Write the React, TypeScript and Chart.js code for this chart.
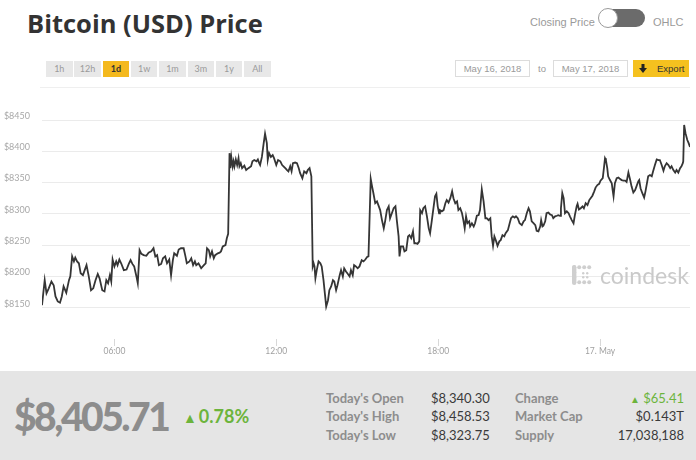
import React, { useEffect, useRef } from "react";
import { Chart, registerables } from "chart.js";
Chart.register(...registerables);

// minutes since 16 May 2018 00:00
const TIMES = [
  199, 205, 209, 214, 220, 225, 229, 234, 239, 243, 247, 253, 259, 262, 266, 270, 273, 277, 281, 285,
  290, 294, 298, 303, 308, 313, 318, 323, 327, 333, 338, 342, 346, 350, 353, 356, 360, 364, 367, 371,
  375, 381, 387, 392, 396, 400, 404, 409, 412, 416, 420, 425, 431, 436, 442, 447, 451, 455, 459, 464,
  468, 473, 477, 482, 486, 490, 493, 499, 503, 508, 514, 518, 521, 527, 531, 535, 539, 542, 547, 553,
  559, 563, 566, 570, 573,
  577, 581, 584, 590, 594, 597, 601, 607, 610, 613, 616, 618, 620, 623, 625, 627, 630, 633, 636, 638,
  641, 644, 649, 653, 658, 664, 667, 671, 676, 679, 682, 684, 688, 692, 695, 699, 701, 704, 708, 712,
  715, 720, 724, 729, 733, 736, 740, 744, 747, 751, 754, 757, 762, 766, 770, 773, 778, 782, 787, 790,
  794, 798, 801, 803, 805, 807, 810, 814, 818, 821, 825, 828, 831, 835, 838, 842, 846, 849, 853, 856,
  861, 864, 868, 871, 875, 878, 883, 886, 890, 893, 897, 901, 905,
  910, 914, 918, 922, 925, 930, 933, 936, 940, 944, 947, 951, 955, 959, 962, 966, 970, 973, 977, 981,
  985, 988, 992, 994, 997, 1002, 1005, 1009, 1013, 1016, 1020, 1024, 1027, 1030, 1034, 1038, 1040, 1044, 1047, 1051,
  1055, 1059, 1062, 1066, 1070, 1073, 1076, 1079, 1082, 1084, 1088, 1092, 1096, 1099, 1103, 1107, 1111, 1114, 1118, 1122,
  1125, 1129, 1133, 1136, 1139, 1142, 1145, 1149, 1151, 1155, 1159, 1162, 1166, 1170, 1173, 1177, 1181, 1185, 1188, 1192,
  1196, 1199, 1202, 1205, 1209, 1212, 1216, 1219, 1223, 1227, 1230, 1235, 1239, 1242, 1246, 1250, 1253, 1257, 1261,
  1266, 1270, 1273, 1277, 1281, 1284, 1288, 1292, 1296, 1299, 1303, 1307, 1309, 1312, 1314, 1318, 1321, 1325, 1329, 1333,
  1336, 1340, 1344, 1347, 1351, 1353, 1356, 1359, 1362, 1366, 1370, 1373, 1377, 1381, 1384, 1388, 1390, 1393, 1397, 1401,
  1404, 1408, 1412, 1416, 1419, 1423, 1427, 1430, 1434, 1438, 1441, 1446, 1449, 1451, 1453, 1456, 1458, 1462, 1466, 1468,
  1470, 1473, 1477, 1481, 1484, 1488, 1492, 1496, 1499, 1503, 1507, 1510, 1514, 1518, 1521, 1525, 1527, 1530, 1534, 1538,
  1541, 1545, 1547, 1551, 1555, 1558, 1562, 1566, 1570, 1573, 1577, 1581, 1584, 1588, 1592, 1596, 1599, 1603, 1607, 1610,
  1614, 1618, 1621, 1624, 1625, 1627, 1630, 1634, 1637, 1640,
];

const PRICES = [
  8154, 8194, 8173, 8181, 8192, 8186, 8168, 8160, 8158, 8168, 8184, 8174, 8194, 8200, 8232, 8224, 8230, 8224, 8221, 8205,
  8202, 8210, 8218, 8200, 8178, 8181, 8194, 8204, 8197, 8178, 8176, 8194, 8189, 8202, 8192, 8227, 8216, 8224, 8218, 8227,
  8221, 8210, 8211, 8220, 8226, 8220, 8216, 8200, 8189, 8242, 8236, 8234, 8233, 8238, 8240, 8245, 8232, 8234, 8218, 8220,
  8229, 8232, 8221, 8227, 8202, 8226, 8237, 8233, 8243, 8245, 8245, 8232, 8221, 8224, 8229, 8218, 8224, 8218, 8221, 8213,
  8218, 8221, 8245, 8242, 8232,
  8240, 8229, 8234, 8237, 8238, 8240, 8248, 8250, 8261, 8268, 8397, 8373, 8391, 8376, 8384, 8376, 8387, 8378, 8389, 8376,
  8381, 8373, 8377, 8370, 8373, 8376, 8384, 8386, 8384, 8387, 8381, 8378, 8391, 8413, 8428, 8413, 8386, 8397, 8391, 8394,
  8389, 8378, 8386, 8384, 8378, 8376, 8373, 8370, 8368, 8376, 8368, 8381, 8382, 8381, 8373, 8365, 8357, 8368, 8365, 8370,
  8373, 8360, 8216, 8221, 8216, 8197, 8210, 8224, 8221, 8216, 8194, 8173, 8152, 8162, 8178, 8184, 8194, 8192, 8178, 8186,
  8202, 8210, 8200, 8213, 8208, 8205, 8200, 8210, 8202, 8218, 8216, 8213, 8216,
  8226, 8224, 8227, 8231, 8232, 8356, 8344, 8333, 8317, 8320, 8314, 8306, 8290, 8277, 8288, 8306, 8312, 8293, 8301, 8309,
  8312, 8290, 8264, 8232, 8248, 8248, 8240, 8242, 8264, 8266, 8261, 8272, 8253, 8253, 8252, 8256, 8306, 8301, 8309, 8312,
  8296, 8277, 8269, 8290, 8312, 8328, 8332, 8312, 8301, 8306, 8304, 8306, 8317, 8322, 8318, 8325, 8336, 8325, 8317, 8320,
  8306, 8309, 8301, 8290, 8277, 8296, 8285, 8288, 8280, 8285, 8280, 8285, 8297, 8298, 8306, 8339, 8320, 8293, 8293, 8290,
  8293, 8264, 8249, 8264, 8256, 8249, 8256, 8258, 8266, 8264, 8269, 8274, 8285, 8293, 8296, 8294, 8296, 8293, 8285,
  8282, 8288, 8290, 8301, 8309, 8304, 8288, 8285, 8282, 8273, 8272, 8280, 8290, 8280, 8281, 8288, 8301, 8302, 8299, 8298,
  8293, 8296, 8297, 8298, 8297, 8309, 8333, 8325, 8301, 8304, 8301, 8296, 8290, 8285, 8298, 8312, 8316, 8307, 8309, 8312,
  8309, 8317, 8314, 8322, 8325, 8329, 8336, 8342, 8346, 8348, 8353, 8357, 8376, 8389, 8386, 8373, 8360, 8354, 8349, 8338,
  8328, 8349, 8357, 8358, 8356, 8354, 8353, 8353, 8351, 8366, 8354, 8344, 8334, 8338, 8344, 8352, 8354, 8341, 8333, 8326,
  8336, 8352, 8360, 8362, 8360, 8368, 8378, 8387, 8386, 8386, 8378, 8369, 8376, 8381, 8378, 8373, 8376, 8370, 8366, 8370,
  8366, 8373, 8376, 8381, 8384, 8442, 8429, 8418, 8413, 8407,
];

const X_TICKS = [360, 720, 1080, 1440];
const X_TICK_LABELS = ["06:00", "12:00", "18:00", "17. May"];
const Y_TICKS = [8150, 8200, 8250, 8300, 8350, 8400, 8450];
const X_MIN = 199;
const X_MAX = 1640;
const Y_MIN = 8100;
const Y_MAX = 8450;

const RANGE_BUTTONS = ["1h", "12h", "1d", "1w", "1m", "3m", "1y", "All"];
const ACTIVE_RANGE = "1d";
const DATE_FROM = "May 16, 2018";
const DATE_TO = "May 17, 2018";

const CURRENT_PRICE = "$8,405.71";
const CURRENT_CHANGE_PCT = "0.78%";
const STAT_LABELS_1 = ["Today's Open", "Today's High", "Today's Low"];
const STAT_VALUES_1 = ["$8,340.30", "$8,458.53", "$8,323.75"];
const STAT_LABELS_2 = ["Change", "Market Cap", "Supply"];
const STAT_VALUES_2 = ["▲ $65.41", "$0.143T", "17,038,188"];

const PANEL_FONT = "Lato, 'Open Sans', sans-serif";
const UI_FONT = "'Liberation Sans', Arial, sans-serif";

function PriceChart() {
  const ref = useRef<HTMLCanvasElement | null>(null);
  useEffect(() => {
    if (!ref.current) return;
    const chart = new Chart(ref.current, {
      type: "line",
      data: {
        datasets: [
          {
            data: TIMES.map((t, i) => ({ x: t, y: PRICES[i] })),
            borderColor: "#353535",
            borderWidth: 1.8,
            pointRadius: 0,
            tension: 0,
            fill: false,
          },
        ],
      },
      options: {
        animation: false,
        responsive: false,
        layout: { padding: { top: 20, right: 6, left: 0, bottom: 0 } },
        plugins: { legend: { display: false }, tooltip: { enabled: false } },
        scales: {
          x: {
            type: "linear",
            min: X_MIN,
            max: X_MAX,
            afterBuildTicks: (s: any) => {
              s.ticks = X_TICKS.map((v) => ({ value: v }));
            },
            afterFit: (s: any) => {
              s.height = 31;
            },
            ticks: {
              autoSkip: false,
              maxRotation: 0,
              padding: 0,
              color: "#a0a0a0",
              font: { family: PANEL_FONT, size: 8.5 },
              callback: (v: any) => {
                const i = X_TICKS.indexOf(Number(v));
                return i >= 0 ? X_TICK_LABELS[i] : "";
              },
            },
            grid: { drawOnChartArea: false, drawTicks: true, tickLength: 7, color: "#d8d8d8" },
            border: { display: false },
          },
          y: {
            min: Y_MIN,
            max: Y_MAX,
            afterBuildTicks: (s: any) => {
              s.ticks = Y_TICKS.map((v) => ({ value: v }));
            },
            afterFit: (s: any) => {
              s.width = 42;
            },
            ticks: {
              padding: 12,
              labelOffset: -4,
              color: "#a8a8a8",
              font: { family: PANEL_FONT, size: 9 },
              callback: (v: any) => "$" + v,
            },
            grid: { color: "#ebebeb", drawTicks: false },
            border: { display: false },
          },
        },
      },
    });
    return () => chart.destroy();
  }, []);
  return (
    <canvas
      ref={ref}
      width={696}
      height={270}
      style={{ position: "absolute", left: 0, top: 100, width: 696, height: 270 }}
    />
  );
}

function CoindeskMark() {
  const dots: [number, number, number][] = [
    [2, 2, 2], [7, 2, 2], [12, 2, 2], [17, 2, 2],
    [2, 7, 2], [2, 12, 2], [2, 17, 2],
    [7, 17, 2], [12, 17, 2], [17, 17, 2],
    [11, 8, 1.2], [11, 12, 1.2], [15, 8, 1.2], [15, 12, 1.2],
  ];
  return (
    <div style={{ position: "absolute", left: 572, top: 262, height: 26, display: "flex", alignItems: "center" }}>
      <svg width={21} height={21} viewBox="0 0 21 21" style={{ marginRight: 7 }}>
        <rect x={0} y={0} width={4.4} height={20} rx={2.2} fill="#cfcfcf" />
        {dots.map(([cx, cy, r], i) => (
          <circle key={i} cx={cx + 0.2} cy={cy + 0.2} r={r} fill="#cfcfcf" />
        ))}
      </svg>
      <span style={{ fontFamily: PANEL_FONT, fontSize: 23, color: "#cacaca", lineHeight: "26px" }}>coindesk</span>
    </div>
  );
}

export default function App() {
  return (
    <div
      style={{
        position: "fixed",
        left: 0,
        top: 0,
        width: 696,
        height: 460,
        background: "#fff",
        overflow: "hidden",
      }}
    >
      {/* Title */}
      <div
        style={{
          position: "absolute",
          left: 27,
          top: 6,
          fontFamily: "'Open Sans', sans-serif",
          fontWeight: 700,
          fontSize: 25.5,
          lineHeight: "34px",
          color: "#333",
          whiteSpace: "nowrap",
        }}
      >
        Bitcoin (USD) Price
      </div>

      {/* Closing price / OHLC toggle */}
      <div style={{ position: "absolute", left: 530, top: 15, fontFamily: UI_FONT, fontSize: 11, color: "#9a9a9a", lineHeight: "14px" }}>
        Closing Price
      </div>
      <div style={{ position: "absolute", left: 600, top: 9, width: 45, height: 18, borderRadius: 9, background: "#6b6b6b" }} />
      <div
        style={{
          position: "absolute",
          left: 598,
          top: 8,
          width: 18,
          height: 18,
          borderRadius: 10,
          background: "#fff",
          border: "1px solid #9a9a9a",
        }}
      />
      <div style={{ position: "absolute", left: 653, top: 15, fontFamily: UI_FONT, fontSize: 11, color: "#9a9a9a", lineHeight: "14px" }}>
        OHLC
      </div>

      {/* Range buttons */}
      {RANGE_BUTTONS.map((b, i) => (
        <div
          key={b}
          style={{
            position: "absolute",
            left: 46 + i * 28.3,
            top: 61,
            width: 26.5,
            height: 16,
            background: b === ACTIVE_RANGE ? "#f4b91e" : "#e8e8e8",
            color: b === ACTIVE_RANGE ? "#333" : "#9a9a9a",
            fontFamily: PANEL_FONT,
            fontSize: 9,
            fontWeight: b === ACTIVE_RANGE ? 700 : 400,
            lineHeight: "16px",
            textAlign: "center",
          }}
        >
          {b}
        </div>
      ))}

      {/* Date range */}
      <div
        style={{
          position: "absolute",
          left: 455,
          top: 60,
          width: 73,
          height: 15,
          border: "1px solid #dcdcdc",
          fontFamily: UI_FONT,
          fontSize: 9.5,
          color: "#9a9a9a",
          lineHeight: "15px",
          textAlign: "center",
        }}
      >
        {DATE_FROM}
      </div>
      <div style={{ position: "absolute", left: 538, top: 61, fontFamily: UI_FONT, fontSize: 9.5, color: "#9a9a9a", lineHeight: "15px" }}>
        to
      </div>
      <div
        style={{
          position: "absolute",
          left: 553,
          top: 60,
          width: 73,
          height: 15,
          border: "1px solid #dcdcdc",
          fontFamily: UI_FONT,
          fontSize: 9.5,
          color: "#9a9a9a",
          lineHeight: "15px",
          textAlign: "center",
        }}
      >
        {DATE_TO}
      </div>
      <div
        style={{
          position: "absolute",
          left: 633,
          top: 60,
          width: 56,
          height: 17,
          background: "#f5c11f",
        }}
      >
        <svg width={8} height={9} viewBox="0 0 8 9" style={{ position: "absolute", left: 6, top: 4 }}>
          <rect x={2.5} y={0} width={3} height={4.5} fill="#222" />
          <polygon points="0,4 8,4 4,9" fill="#222" />
        </svg>
        <div style={{ position: "absolute", left: 24, top: 1, fontFamily: UI_FONT, fontSize: 9.5, color: "#333", lineHeight: "15px" }}>
          Export
        </div>
      </div>

      {/* Separator */}
      <div style={{ position: "absolute", left: 40, top: 87, width: 650, height: 1, background: "#efefef" }} />

      <PriceChart />
      <CoindeskMark />

      {/* Bottom panel */}
      <div style={{ position: "absolute", left: 0, top: 371, width: 696, height: 89, background: "#e5e5e5" }}>
        <div
          style={{
            position: "absolute",
            left: 14,
            top: 25,
            fontFamily: PANEL_FONT,
            fontWeight: 900,
            fontSize: 39,
            letterSpacing: -2.5,
            lineHeight: "40px",
            color: "#8d8d8d",
            whiteSpace: "nowrap",
          }}
        >
          {CURRENT_PRICE}
        </div>
        <div
          style={{
            position: "absolute",
            left: 183,
            top: 35,
            fontFamily: PANEL_FONT,
            fontWeight: 700,
            fontSize: 18,
            lineHeight: "20px",
            color: "#6cb43c",
            whiteSpace: "nowrap",
          }}
        >
          <span style={{ fontSize: 14, marginRight: 2 }}>▲</span>
          {CURRENT_CHANGE_PCT}
        </div>
        {STAT_LABELS_1.map((l, i) => (
          <div
            key={l}
            style={{
              position: "absolute",
              left: 326,
              top: 19 + i * 18.3,
              fontFamily: PANEL_FONT,
              fontWeight: 700,
              fontSize: 13,
              lineHeight: "16px",
              color: "#8d8d8d",
              whiteSpace: "nowrap",
            }}
          >
            {l}
          </div>
        ))}
        {STAT_VALUES_1.map((v, i) => (
          <div
            key={v}
            style={{
              position: "absolute",
              left: 431,
              top: 19 + i * 18.3,
              fontFamily: PANEL_FONT,
              fontSize: 13,
              lineHeight: "16px",
              color: "#3a3a3a",
              whiteSpace: "nowrap",
            }}
          >
            {v}
          </div>
        ))}
        {STAT_LABELS_2.map((l, i) => (
          <div
            key={l}
            style={{
              position: "absolute",
              left: 515,
              top: 19 + i * 18.3,
              fontFamily: PANEL_FONT,
              fontWeight: 700,
              fontSize: 13,
              lineHeight: "16px",
              color: "#8d8d8d",
              whiteSpace: "nowrap",
            }}
          >
            {l}
          </div>
        ))}
        {STAT_VALUES_2.map((v, i) => (
          <div
            key={v}
            style={{
              position: "absolute",
              right: 12,
              top: 19 + i * 18.3,
              fontFamily: PANEL_FONT,
              fontSize: 13,
              lineHeight: "16px",
              color: i === 0 ? "#6cb43c" : "#3a3a3a",
              whiteSpace: "nowrap",
              textAlign: "right",
            }}
          >
            {i === 0 ? (
              <>
                <span style={{ fontSize: 10 }}>▲</span> {v.replace("▲ ", "")}
              </>
            ) : (
              v
            )}
          </div>
        ))}
      </div>
    </div>
  );
}
